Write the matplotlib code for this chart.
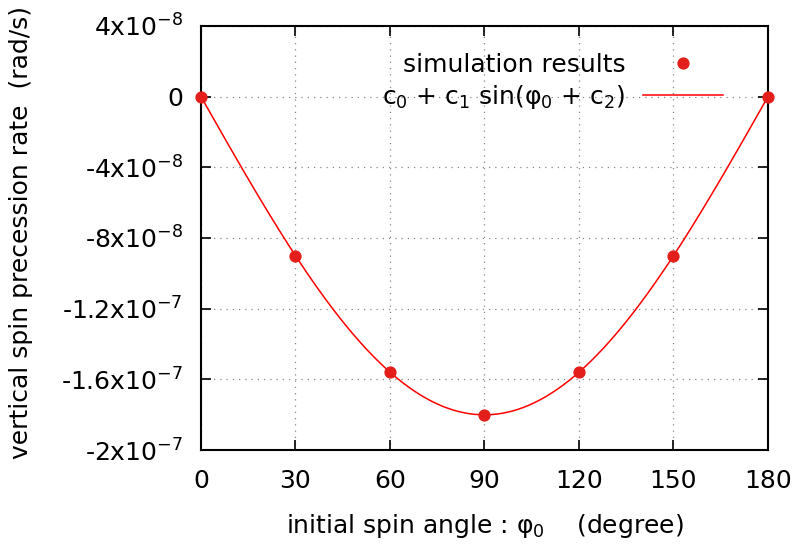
import numpy as np
import matplotlib
matplotlib.use("Agg")
import matplotlib.pyplot as plt

angles_deg = [0, 30, 60, 90, 120, 150, 180]
rates = [0.0, -9.0e-8, -1.56e-7, -1.80e-7, -1.56e-7, -9.0e-8, 0.0]
x_ticks = [0, 30, 60, 90, 120, 150, 180]
y_ticks = [4e-8, 0, -4e-8, -8e-8, -1.2e-7, -1.6e-7, -2e-7]
y_tick_labels = [r"4x10$^{-8}$", "0", r"-4x10$^{-8}$", r"-8x10$^{-8}$",
                 r"-1.2x10$^{-7}$", r"-1.6x10$^{-7}$", r"-2x10$^{-7}$"]

plt.rcParams['font.family'] = ['DejaVu Sans']
plt.rcParams['mathtext.fontset'] = 'dejavusans'
FS = 18

# fit c0 + c1 sin(phi + c2) by linear least squares
phi = np.radians(angles_deg)
A = np.column_stack([np.ones_like(phi), np.sin(phi), np.cos(phi)])
coef, *_ = np.linalg.lstsq(A, np.array(rates), rcond=None)
xf = np.linspace(0, 180, 400)
pf = np.radians(xf)
yf = coef[0] + coef[1]*np.sin(pf) + coef[2]*np.cos(pf)

fig = plt.figure(figsize=(7.96, 5.48), dpi=100)
ax = fig.add_axes([0.2525, 0.1788, 0.9648-0.2525, 0.9526-0.1788])

ax.plot(angles_deg, rates, 'o', color='#e41e1a', markersize=7.8,
        label='simulation results', zorder=3, clip_on=False)
ax.plot(xf, yf, '-', color='#ff0000', linewidth=1.1,
        label=r'c$_0$ + c$_1$ sin(φ$_0$ + c$_2$)', zorder=2)

ax.set_xlim(0, 180)
ax.set_ylim(-2e-7, 4e-8)
ax.set_xticks(x_ticks)
ax.set_yticks(y_ticks)
ax.set_yticklabels(y_tick_labels)
ax.tick_params(direction='in', length=7, width=1.2, labelsize=FS,
               top=True, right=True)
ax.tick_params(axis='x', pad=14)
ax.tick_params(axis='y', pad=13)
ax.grid(True, color='#888888', linestyle=(0, (1, 4)), linewidth=0.9)
for s in ax.spines.values():
    s.set_linewidth(1.5)

ax.set_xlabel('initial spin angle : φ$_0$    (degree)', fontsize=FS)
ax.set_ylabel('vertical spin precession rate  (rad/s)', fontsize=FS)
ax.xaxis.set_label_coords(0.5, -0.146)
ax.yaxis.set_label_coords(-0.296, 0.512)

leg = ax.legend(loc='upper right', bbox_to_anchor=(0.96, 0.99), frameon=False,
                markerfirst=False, fontsize=FS, handlelength=3.2,
                handletextpad=0.7, labelspacing=0.25, numpoints=1)

fig.savefig('out.png', dpi=100)
